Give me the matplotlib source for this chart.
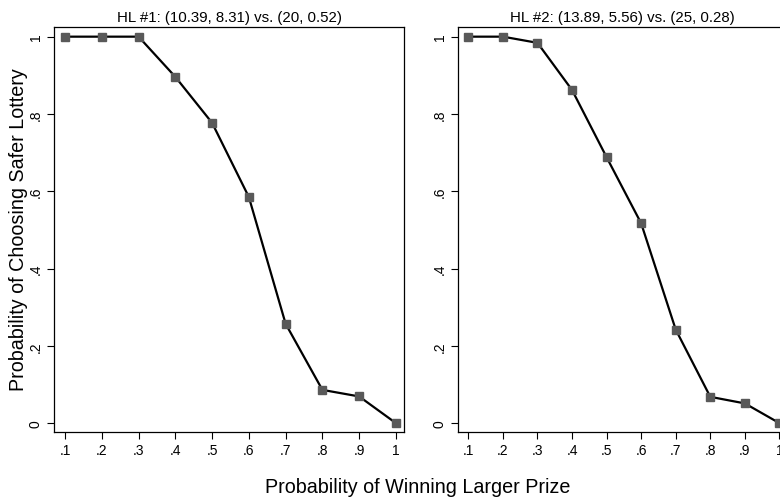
import matplotlib
matplotlib.use("Agg")
from matplotlib import pyplot as plt

plt.rcParams['font.family'] = ['Liberation Sans', 'DejaVu Sans']

prob_larger = [0.1, 0.2, 0.3, 0.4, 0.5, 0.6, 0.7, 0.8, 0.9, 1.0]
safer_hl1 = [1.0, 1.0, 1.0, 0.896, 0.777, 0.585, 0.257, 0.086, 0.069, 0.0]
safer_hl2 = [1.0, 1.0, 0.984, 0.862, 0.688, 0.517, 0.242, 0.068, 0.051, 0.0]
titles = ["HL #1: (10.39, 8.31) vs. (20, 0.52)",
          "HL #2: (13.89, 5.56) vs. (25, 0.28)"]
x_ticks = [0.1, 0.2, 0.3, 0.4, 0.5, 0.6, 0.7, 0.8, 0.9, 1.0]
x_labels = [".1", ".2", ".3", ".4", ".5", ".6", ".7", ".8", ".9", "1"]
y_ticks = [0, 0.2, 0.4, 0.6, 0.8, 1.0]
y_labels = ["0", ".2", ".4", ".6", ".8", "1"]


def draw_panel(ax, values, title):
    ax.plot(prob_larger, values, color="black", lw=1.6, marker="s",
            markersize=6.3, markerfacecolor="#595959", markeredgecolor="#595959")
    ax.set_xlim(0.07, 1.022)
    ax.set_ylim(-0.023, 1.025)
    ax.set_xticks(x_ticks)
    ax.set_xticklabels(x_labels, fontsize=10)
    ax.set_yticks(y_ticks)
    ax.set_yticklabels(y_labels, fontsize=10, rotation=90, va="center")
    ax.tick_params(direction="out", length=5, width=0.8, color="black", pad=3)
    for s in ax.spines.values():
        s.set_linewidth(0.9)
    ax.set_title(title, fontsize=10.8, pad=4)


fig = plt.figure(figsize=(7.8, 5.02), dpi=100)
ax1 = fig.add_axes([54 / 780, 69 / 502, 350 / 780, 405 / 502])
ax2 = fig.add_axes([458 / 780, 69 / 502, 329 / 780, 405 / 502])

draw_panel(ax1, safer_hl1, titles[0])
draw_panel(ax2, safer_hl2, titles[1])

fig.text(19 / 780, 1 - 230 / 502, "Probability of Choosing Safer Lottery",
         rotation=90, ha="center", va="center", fontsize=14.2)
fig.text(418 / 780, 1 - 488 / 502, "Probability of Winning Larger Prize",
         ha="center", va="center", fontsize=14.2)

fig.savefig("out.png", dpi=100)
